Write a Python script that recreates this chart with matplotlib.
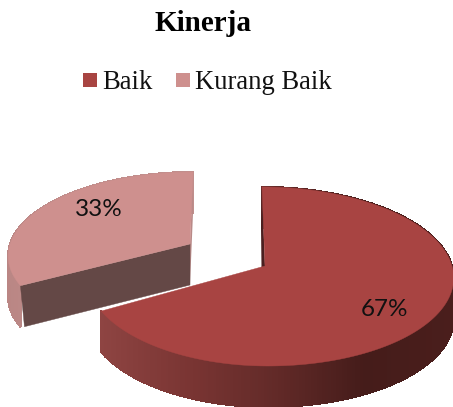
import numpy as np
import matplotlib
matplotlib.use('Agg')
import matplotlib.pyplot as plt
from matplotlib.collections import PolyCollection
from matplotlib.colors import LinearSegmentedColormap
from matplotlib.patches import Polygon, Rectangle

labels = ['Baik', 'Kurang Baik']
values = [67, 33]
title = 'Kinerja'
colors = ['#a84442', '#ce908e']

# tinggi sisi pie (piksel)
depth = 41


def project(theta, apex, r_left, r_right, a, k, lean):
    # sudut searah jarum jam dari atas, dengan perspektif sederhana
    t = -np.cos(theta)
    r = np.where(np.sin(theta) < 0, r_left, r_right)
    x = apex[0] + r * np.sin(theta) / (1 - k * t) + lean * np.cos(theta)
    y = apex[1] + a * t / (1 - k * t)
    return x, y


def side(ax, theta, geo, cmap, xmin, xmax):
    x, y = project(theta, *geo)
    polys = []
    cols = []
    for i in range(len(theta) - 1):
        polys.append([(x[i], y[i]), (x[i + 1], y[i + 1]),
                      (x[i + 1], y[i + 1] + depth), (x[i], y[i] + depth)])
        cols.append(cmap((x[i] - xmin) / (xmax - xmin)))
    ax.add_collection(PolyCollection(polys, facecolors=cols, edgecolors=cols,
                                     linewidths=0.8, antialiaseds=False))


def top(ax, theta, geo, color):
    x, y = project(theta, *geo)
    pts = [geo[0]] + list(zip(x, y))
    ax.add_patch(Polygon(pts, closed=True, facecolor=color, edgecolor=color, lw=0.3))


fig = plt.figure(figsize=(4.53, 4.07), dpi=100)
ax = fig.add_axes([0, 0, 1, 1])
ax.set_xlim(0, 453)
ax.set_ylim(407, 0)
ax.axis('off')

# sudut tiap potongan dari nilai
total = sum(values)
split = 2 * np.pi * values[0] / total
big_theta = np.linspace(0, split, 300)
small_theta = np.linspace(split, 2 * np.pi, 200)

big_geo = ((265, 266), 178, 187, 88.3, 0.117, -3)
small_geo = ((190, 244), 180, 180, 81.2, 0.128, 3)

# potongan Kurang Baik
cmap_small = LinearSegmentedColormap.from_list('s', ['#b98583', '#c08e8c'])
side(ax, small_theta, small_geo, cmap_small, 0, 60)
px, py = project(np.array([2 * np.pi]), *small_geo)
sa = small_geo[0]
ax.add_patch(Polygon([(px[0], py[0]), (px[0], py[0] + depth), (sa[0], sa[1] + depth), sa],
                     closed=True, facecolor='#b98a88', edgecolor='none'))
ex, ey = project(np.array([split]), *small_geo)
ax.add_patch(Polygon([sa, (ex[0], ey[0]), (ex[0] + 4, ey[0] + depth), (sa[0], sa[1] + depth)],
                     closed=True, facecolor='#644846', edgecolor='#644846', lw=0.3))
top(ax, small_theta, small_geo, colors[1])

# potongan Baik
cmap_big = LinearSegmentedColormap.from_list(
    'b', ['#8e4442', '#7a3533', '#622a28', '#451c1a', '#4a1e1c'])
side(ax, big_theta, big_geo, cmap_big, 100, 453)
qx, qy = project(np.array([0.0]), *big_geo)
ba = big_geo[0]
ax.add_patch(Polygon([(qx[0], qy[0]), (qx[0] - 1, qy[0] + depth),
                      (ba[0] - 3, ba[1] + depth), ba],
                     closed=True, facecolor='#4a2020', edgecolor='none'))
top(ax, big_theta, big_geo, colors[0])

# label persen
ax.text(384, 309, f'{values[0]}%', family=['Lato', 'DejaVu Sans'], fontsize=17.5,
        ha='center', va='center', color='#111111')
ax.text(99, 210, f'{values[1]}%', family=['Lato', 'DejaVu Sans'], fontsize=17.5,
        ha='center', va='center', color='#111111')

# judul dan legenda
ax.text(203, 31, title, family='Liberation Serif', fontweight='bold', fontsize=21,
        ha='center', va='baseline', color='#000000')
ax.add_patch(Rectangle((83, 73), 14, 14, facecolor=colors[0], edgecolor='none'))
ax.text(102, 89, labels[0], family='Liberation Serif', fontsize=19.2, va='baseline', color='#111111')
ax.add_patch(Rectangle((176, 73), 14, 14, facecolor=colors[1], edgecolor='none'))
ax.text(195, 89, labels[1], family='Liberation Serif', fontsize=19.2, va='baseline', color='#111111')

fig.savefig('out.png', dpi=100)
